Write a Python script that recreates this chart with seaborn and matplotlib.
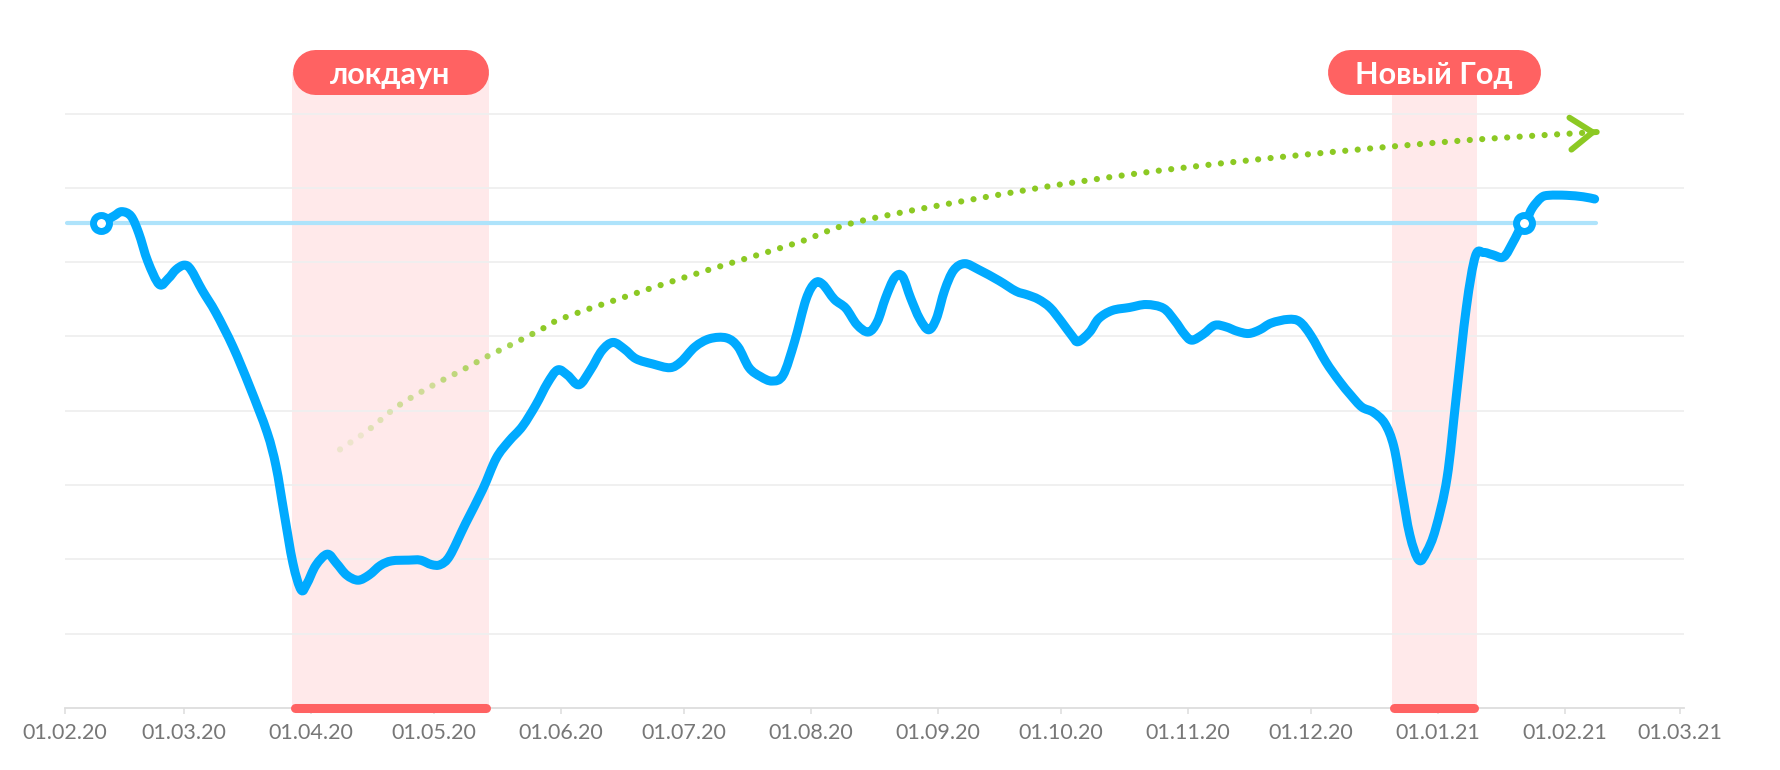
import numpy as np
import pandas as pd
import matplotlib
matplotlib.use("Agg")
import matplotlib.pyplot as plt
import matplotlib.dates as mdates
from matplotlib.lines import Line2D
from matplotlib.path import Path
from matplotlib.patches import PathPatch
from matplotlib.transforms import IdentityTransform
import seaborn as sns

# ---------------- data ----------------
START = pd.Timestamp("2020-02-01")

line_days = [8.9, 11.9, 13.8, 16.1, 18.0, 20.2, 23.0, 25.2, 27.1, 29.1,
             30.7, 33.5, 36.8, 41.0, 45.1, 49.3, 51.5, 53.4, 55.6, 57.6,
             59.0, 61.2, 64.0, 66.2, 68.7, 71.5, 74.2, 77.0, 79.7, 83.9,
             86.7, 89.4, 91.6, 93.9, 97.7, 101.9, 105.2, 108.3, 111.6, 114.9,
             117.7, 120.2, 122.6, 125.4, 128.2, 131.0, 133.7, 136.5, 139.3, 143.4,
             147.6, 150.3, 153.7, 157.3, 161.4, 164.2, 166.9, 169.7, 172.5, 175.2,
             178.0, 180.8, 183.0, 184.9, 187.7, 190.5, 193.2, 196.0, 198.2, 200.2,
             202.4, 204.3, 206.3, 208.5, 210.7, 212.6, 214.6, 216.8, 219.5, 222.9,
             227.9, 232.0, 234.8, 237.5, 240.3, 243.1, 245.8, 247.2, 250.0, 252.2,
             255.5, 259.7, 263.8, 268.0, 270.8, 273.0, 274.9, 277.7, 280.5, 283.2,
             286.0, 288.8, 291.5, 294.3, 298.4, 301.2, 304.0, 307.6, 310.9, 313.7,
             316.4, 319.2, 322.0, 324.2, 326.1, 328.1, 330.3, 332.2, 334.4, 337.2,
             339.4, 341.9, 344.1, 346.1, 348.3, 351.0, 353.3, 355.2, 356.6, 358.0,
             360.2, 362.1, 366.3, 370.4, 373.2]

line_values = [65.3, 66.2, 66.8, 66.2, 63.9, 60.1, 57.0, 57.8, 59.0, 59.6,
               59.0, 56.2, 53.2, 48.6, 43.2, 37.1, 32.5, 26.4, 19.5, 15.9,
               16.7, 19.2, 20.7, 19.5, 17.9, 17.2, 17.9, 19.2, 19.8, 19.9,
               19.9, 19.3, 19.3, 20.5, 24.8, 29.4, 33.6, 35.9, 37.9, 40.8,
               43.7, 45.5, 44.8, 43.5, 45.5, 48.1, 49.2, 48.3, 47.0, 46.3,
               45.8, 46.6, 48.6, 49.7, 49.8, 48.6, 45.8, 44.6, 44.0, 44.8,
               49.3, 55.0, 57.2, 57.0, 55.0, 53.8, 51.6, 50.6, 52.0, 55.2,
               57.9, 58.1, 55.2, 52.4, 50.9, 52.4, 56.2, 58.9, 59.8, 59.0,
               57.5, 56.1, 55.6, 55.0, 53.9, 52.0, 50.0, 49.3, 50.6, 52.4,
               53.5, 53.9, 54.3, 53.8, 52.1, 50.4, 49.5, 50.3, 51.5, 51.3,
               50.7, 50.4, 50.9, 51.8, 52.3, 52.0, 50.1, 46.6, 44.0, 42.1,
               40.5, 39.8, 38.3, 35.2, 29.4, 23.3, 19.9, 21.0, 24.1, 31.0,
               41.7, 53.9, 60.8, 61.3, 61.0, 60.7, 62.7, 64.7, 65.7, 67.3,
               68.7, 69.0, 69.0, 68.8, 68.5]

trend_days = [67.1, 74.0, 81.1, 90.0, 97.0, 103.3, 110.0, 116.0, 122.6,
              150.3, 178.0, 194.6, 233.4, 261.1, 288.8, 316.4, 344.1, 370.3]
trend_values = [34.8, 37.4, 40.6, 43.5, 45.5, 47.4, 49.2, 50.9, 52.7,
                57.8, 62.5, 65.6, 69.6, 71.9, 73.7, 75.2, 76.5, 77.4]

ref_level = 65.3
ref_span_days = [0.5, 373.5]
marker_days = [8.9, 356.0]

band_names = ["локдаун", "Новый Год"]
band_start_days = [55.4, 323.7]
band_end_days = [103.4, 344.4]

tick_months = pd.date_range("2020-02-01", "2021-03-01", freq="MS")
tick_labels = [d.strftime("%d.%m.%y") for d in tick_months]

# ---------------- style ----------------
BLUE = "#00aaff"
REF_BLUE = "#aee3fb"
GREEN = "#8cc923"
PINK = "#ffe9ea"
RED = "#ff6262"
GRID = "#efefef"

sns.set_theme(style="white")
plt.rcParams["font.family"] = ["Lato", "DejaVu Sans"]


def to_dates(days):
    return START + pd.to_timedelta(np.asarray(days, dtype=float), unit="D")


def bezier_segments(disp):
    """Catmull-Rom -> cubic Bezier control points (display coords) through the points."""
    p = np.vstack([disp[0], disp, disp[-1]])
    segs = []
    for i in range(1, len(p) - 2):
        p0, p1, p2, p3 = p[i - 1], p[i], p[i + 1], p[i + 2]
        c1 = p1 + (p2 - p0) / 6.0
        c2 = p2 - (p3 - p1) / 6.0
        segs.append(np.array([p1, c1, c2, p2]))
    return segs


df = pd.DataFrame({"date": to_dates(line_days), "value": line_values})

fig = plt.figure(figsize=(17.8, 7.7), dpi=100)
ax = fig.add_axes([65 / 1780, 62 / 770, (1684 - 65) / 1780, (708 - 40) / 770])

Y_TOP = 89.9
PILL_LEVEL = 85.6
ax.set_xlim(mdates.date2num(START), mdates.date2num(START + pd.Timedelta(days=395)))
ax.set_ylim(0, Y_TOP)

# grid
ax.set_yticks(np.arange(10, 81, 10))
ax.yaxis.grid(True, color=GRID, lw=1.3)
ax.xaxis.grid(False)
ax.set_axisbelow(True)
ax.tick_params(axis="y", length=0, labelleft=False)

ax.set_xticks(mdates.date2num(tick_months))
ax.set_xticklabels(tick_labels)
ax.tick_params(axis="x", length=4.5, width=1.1, color="#dddddd",
               labelcolor="#777777", labelsize=15.5, pad=6, bottom=True)
for side in ["top", "left", "right"]:
    ax.spines[side].set_visible(False)
ax.spines["bottom"].set_color("#dddddd")
ax.spines["bottom"].set_linewidth(1.3)

# bands
for s, e in zip(band_start_days, band_end_days):
    ax.axvspan(mdates.date2num(to_dates([s])[0]), mdates.date2num(to_dates([e])[0]),
               ymin=0, ymax=PILL_LEVEL / Y_TOP, color=PINK, lw=0, zorder=0)

# reference line
ax.plot(to_dates(ref_span_days), [ref_level, ref_level], color=REF_BLUE, lw=3,
        solid_capstyle="round", zorder=2)

# main line: seaborn computes the line, drawn as a smooth spline through its vertices
sns.lineplot(data=df, x="date", y="value", ax=ax, color=BLUE, lw=6.5,
             estimator=None, sort=False, zorder=4)
ax.set_xlabel("")
ax.set_ylabel("")
main_line = ax.get_lines()[-1]
main_line.set_visible(False)
xy_num = np.column_stack([mdates.date2num(df["date"]), df["value"].to_numpy()])
disp = ax.transData.transform(xy_num)
inv = ax.transData.inverted()
verts, codes = [], []
for k, seg in enumerate(bezier_segments(disp)):
    d = inv.transform(seg)
    if k == 0:
        verts.append(d[0]); codes.append(Path.MOVETO)
    verts.extend(d[1:]); codes.extend([Path.CURVE4] * 3)
ax.add_patch(PathPatch(Path(verts, codes), fill=False, ec=BLUE, lw=6.5,
                       capstyle="round", joinstyle="round", zorder=4))

# circle markers
ax.plot(to_dates(marker_days), [ref_level] * len(marker_days), "o", ms=11.5, mew=5,
        mfc="white", mec=BLUE, zorder=5, linestyle="none")

# dotted trend with faded start (continuous dot phase across segments)
tnum = mdates.date2num(to_dates(trend_days))
tdisp = ax.transData.transform(np.column_stack([tnum, trend_values]))
TLW = 4.5
PERIOD = 2.0
cum = 0.0
for i, seg in enumerate(bezier_segments(tdisp)):
    seg_len = np.hypot(*(seg[3] - seg[0])) * 72.0 / fig.dpi
    mid = 0.5 * (trend_days[i] + trend_days[i + 1])
    alpha = float(np.clip((mid - 62) / 58.0, 0.12, 1.0))
    d = inv.transform(seg)
    ax.add_patch(PathPatch(Path(d, [Path.MOVETO] + [Path.CURVE4] * 3), fill=False,
                           ec=GREEN, lw=TLW, alpha=alpha, capstyle="round",
                           linestyle=((cum / TLW) % PERIOD, (0.001, PERIOD)),
                           zorder=3))
    cum += seg_len

# arrow head at the end of trend
direction = (tdisp[-1] - tdisp[-2]) / np.hypot(*(tdisp[-1] - tdisp[-2]))
tip = tdisp[-1] + direction * 15
base = tip - direction * 1.0
ax.annotate("", xy=inv.transform(tip), xytext=inv.transform(base),
            arrowprops=dict(arrowstyle="->,head_length=1.6,head_width=1.15",
                            color=GREEN, lw=4.3, shrinkA=0, shrinkB=0,
                            mutation_scale=10, joinstyle="round", capstyle="round"),
            zorder=3)

# red bars on the x axis
for s, e in zip(band_start_days, band_end_days):
    ax.plot(to_dates([s + 0.6, e - 0.6]), [0, 0], color=RED, lw=6.5,
            solid_capstyle="round", clip_on=False, zorder=6)

# pills with labels
renderer = fig.canvas.get_renderer()
PILL_H = 45
for name, s, e in zip(band_names, band_start_days, band_end_days):
    x0 = ax.transData.transform((mdates.date2num(to_dates([s])[0]), 0))[0]
    x1 = ax.transData.transform((mdates.date2num(to_dates([e])[0]), 0))[0]
    cy = ax.transData.transform((mdates.date2num(START), PILL_LEVEL))[1]
    cx = 0.5 * (x0 + x1)
    t = fig.text(cx, cy - 12, name, transform=IdentityTransform(), ha="center",
                 va="baseline", color="white", fontsize=22, fontweight="bold",
                 zorder=3)
    tw = t.get_window_extent(renderer).width
    w = max(x1 - x0, tw + 56)
    pill = Line2D([cx - w / 2 + PILL_H / 2, cx + w / 2 - PILL_H / 2], [cy, cy],
                  lw=PILL_H * 72.0 / fig.dpi, color=RED, solid_capstyle="round",
                  transform=IdentityTransform(), zorder=2)
    fig.add_artist(pill)

fig.savefig("out.png", dpi=100)
